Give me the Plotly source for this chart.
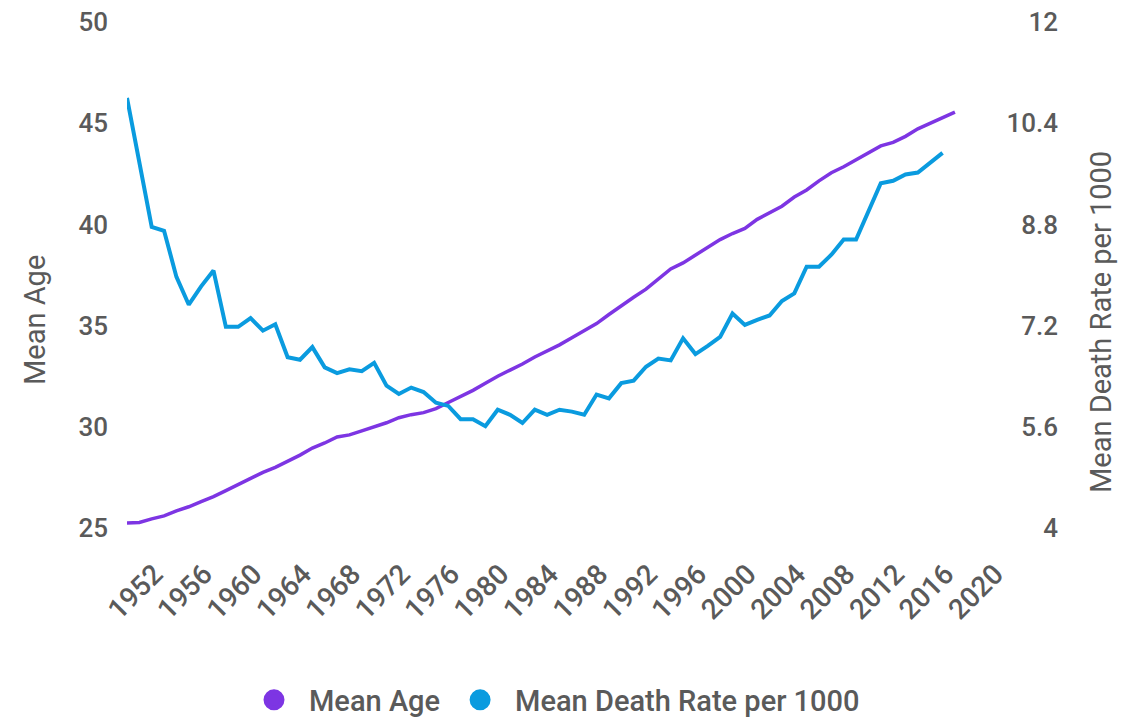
import plotly.graph_objects as go

years = list(range(1950, 2018))

mean_age = [25.25, 25.27, 25.45, 25.6, 25.85, 26.05, 26.3, 26.55, 26.85, 27.15,
            27.45, 27.75, 28.0, 28.3, 28.6, 28.95, 29.2, 29.5, 29.6, 29.8,
            30.0, 30.2, 30.45, 30.6, 30.7, 30.9, 31.2, 31.5, 31.8, 32.15,
            32.5, 32.8, 33.1, 33.45, 33.75, 34.05, 34.4, 34.75, 35.1, 35.55,
            36.0, 36.4, 36.8, 37.3, 37.8, 38.1, 38.5, 38.9, 39.25, 39.55,
            39.8, 40.25, 40.6, 40.9, 41.35, 41.7, 42.15, 42.55, 42.85, 43.2,
            43.55, 43.88, 44.05, 44.35, 44.72, 45.0, 45.25, 45.55]

death_years = list(range(1950, 2017))
death_rate = [10.8, 9.77, 8.76, 8.70, 7.97, 7.53, 7.82, 8.07, 7.18, 7.18,
              7.32, 7.12, 7.22, 6.70, 6.66, 6.86, 6.54, 6.45, 6.51, 6.48,
              6.61, 6.25, 6.12, 6.22, 6.15, 5.98, 5.93, 5.72, 5.72, 5.61,
              5.87, 5.79, 5.66, 5.87, 5.79, 5.87, 5.84, 5.79, 6.11, 6.05,
              6.29, 6.33, 6.55, 6.68, 6.65, 7.00, 6.75, 6.88, 7.02, 7.39,
              7.21, 7.29, 7.36, 7.59, 7.71, 8.13, 8.13, 8.32, 8.56, 8.56,
              9.00, 9.45, 9.49, 9.59, 9.62, 9.78, 9.93]

left_ticks = [25, 30, 35, 40, 45, 50]
right_ticks = [4, 5.6, 7.2, 8.8, 10.4, 12]
x_ticks = list(range(1952, 2021, 4))

purple = "#7D35E3"
blue = "#0A9BDF"
text_col = "#5a5a5a"
font_family = "Roboto"

fig = go.Figure()
fig.add_trace(go.Scatter(
    x=years, y=mean_age, mode="lines", name="Mean Age",
    line=dict(color=purple, width=3.5), yaxis="y", showlegend=False))
fig.add_trace(go.Scatter(
    x=death_years, y=death_rate, mode="lines", name="Mean Death Rate per 1000",
    line=dict(color=blue, width=4), yaxis="y2", showlegend=False))
# legend entries
fig.add_trace(go.Scatter(
    x=[None], y=[None], mode="markers", name="Mean Age",
    marker=dict(color=purple, size=16, line=dict(color=purple, width=5))))
fig.add_trace(go.Scatter(
    x=[None], y=[None], mode="markers", name="Mean Death Rate per 1000",
    marker=dict(color=blue, size=16, line=dict(color=blue, width=5))))

# page body has an 8px margin; figure is sized to fit inside the window
W, H = 1124, 710
ml, mr, mt, mb = 119, 30, 14, 190
pw = W - ml - mr
ph = H - mt - mb
sx0 = ml + 8        # screen x of plot left
sy0 = mt + 8 + ph   # screen y of plot bottom


def px(sx):
    return (sx - sx0) / pw


def py(sy):
    return (sy0 - sy) / ph


fig.update_layout(
    width=W, height=H,
    margin=dict(l=ml, r=mr, t=mt, b=mb, autoexpand=False),
    paper_bgcolor="white", plot_bgcolor="white",
    font=dict(family=font_family, color=text_col),
    xaxis=dict(
        range=[1950, 2020], domain=[0, px(992)],
        tickvals=x_ticks, ticktext=[str(v) for v in x_ticks],
        tickangle=-45, showgrid=False, zeroline=False, showline=False,
        ticks="", ticklabelstandoff=23, ticklabelshift=3, automargin=False,
        ticklabeloverflow="allow",
        tickfont=dict(size=28, family=font_family, color=text_col, weight=500)),
    yaxis=dict(
        range=[25, 50], tickvals=left_ticks,
        showgrid=False, zeroline=False, showline=False, ticks="",
        ticklabelstandoff=18, automargin=False, ticklabeloverflow="allow",
        tickfont=dict(size=26, family=font_family, color=text_col, weight=500)),
    yaxis2=dict(
        range=[4, 12], tickvals=right_ticks,
        ticktext=["4", "5.6", "7.2", "8.8", "10.4", "12"],
        overlaying="y", side="right", anchor="free",
        position=px(1061), automargin=False,
        ticklabelposition="inside", ticklabeloverflow="allow",
        showgrid=False, zeroline=False, showline=False, ticks="",
        tickfont=dict(size=26, family=font_family, color=text_col, weight=500)),
    legend=dict(
        orientation="h", x=px(552), xanchor="center",
        y=py(700), yanchor="middle", itemwidth=60,
        font=dict(size=29, family=font_family, color=text_col, weight=500),
        itemsizing="trace"),
    annotations=[
        dict(text="Mean Age", xref="paper", yref="paper",
             x=px(35), y=py(320), textangle=-90,
             showarrow=False, xanchor="center", yanchor="middle",
             font=dict(size=29, family=font_family, color=text_col)),
        dict(text="Mean Death Rate per 1000", xref="paper", yref="paper",
             x=px(1101), y=py(322), textangle=-90,
             showarrow=False, xanchor="center", yanchor="middle",
             font=dict(size=29, family=font_family, color=text_col)),
    ],
)

fig.write_html("out.html")
